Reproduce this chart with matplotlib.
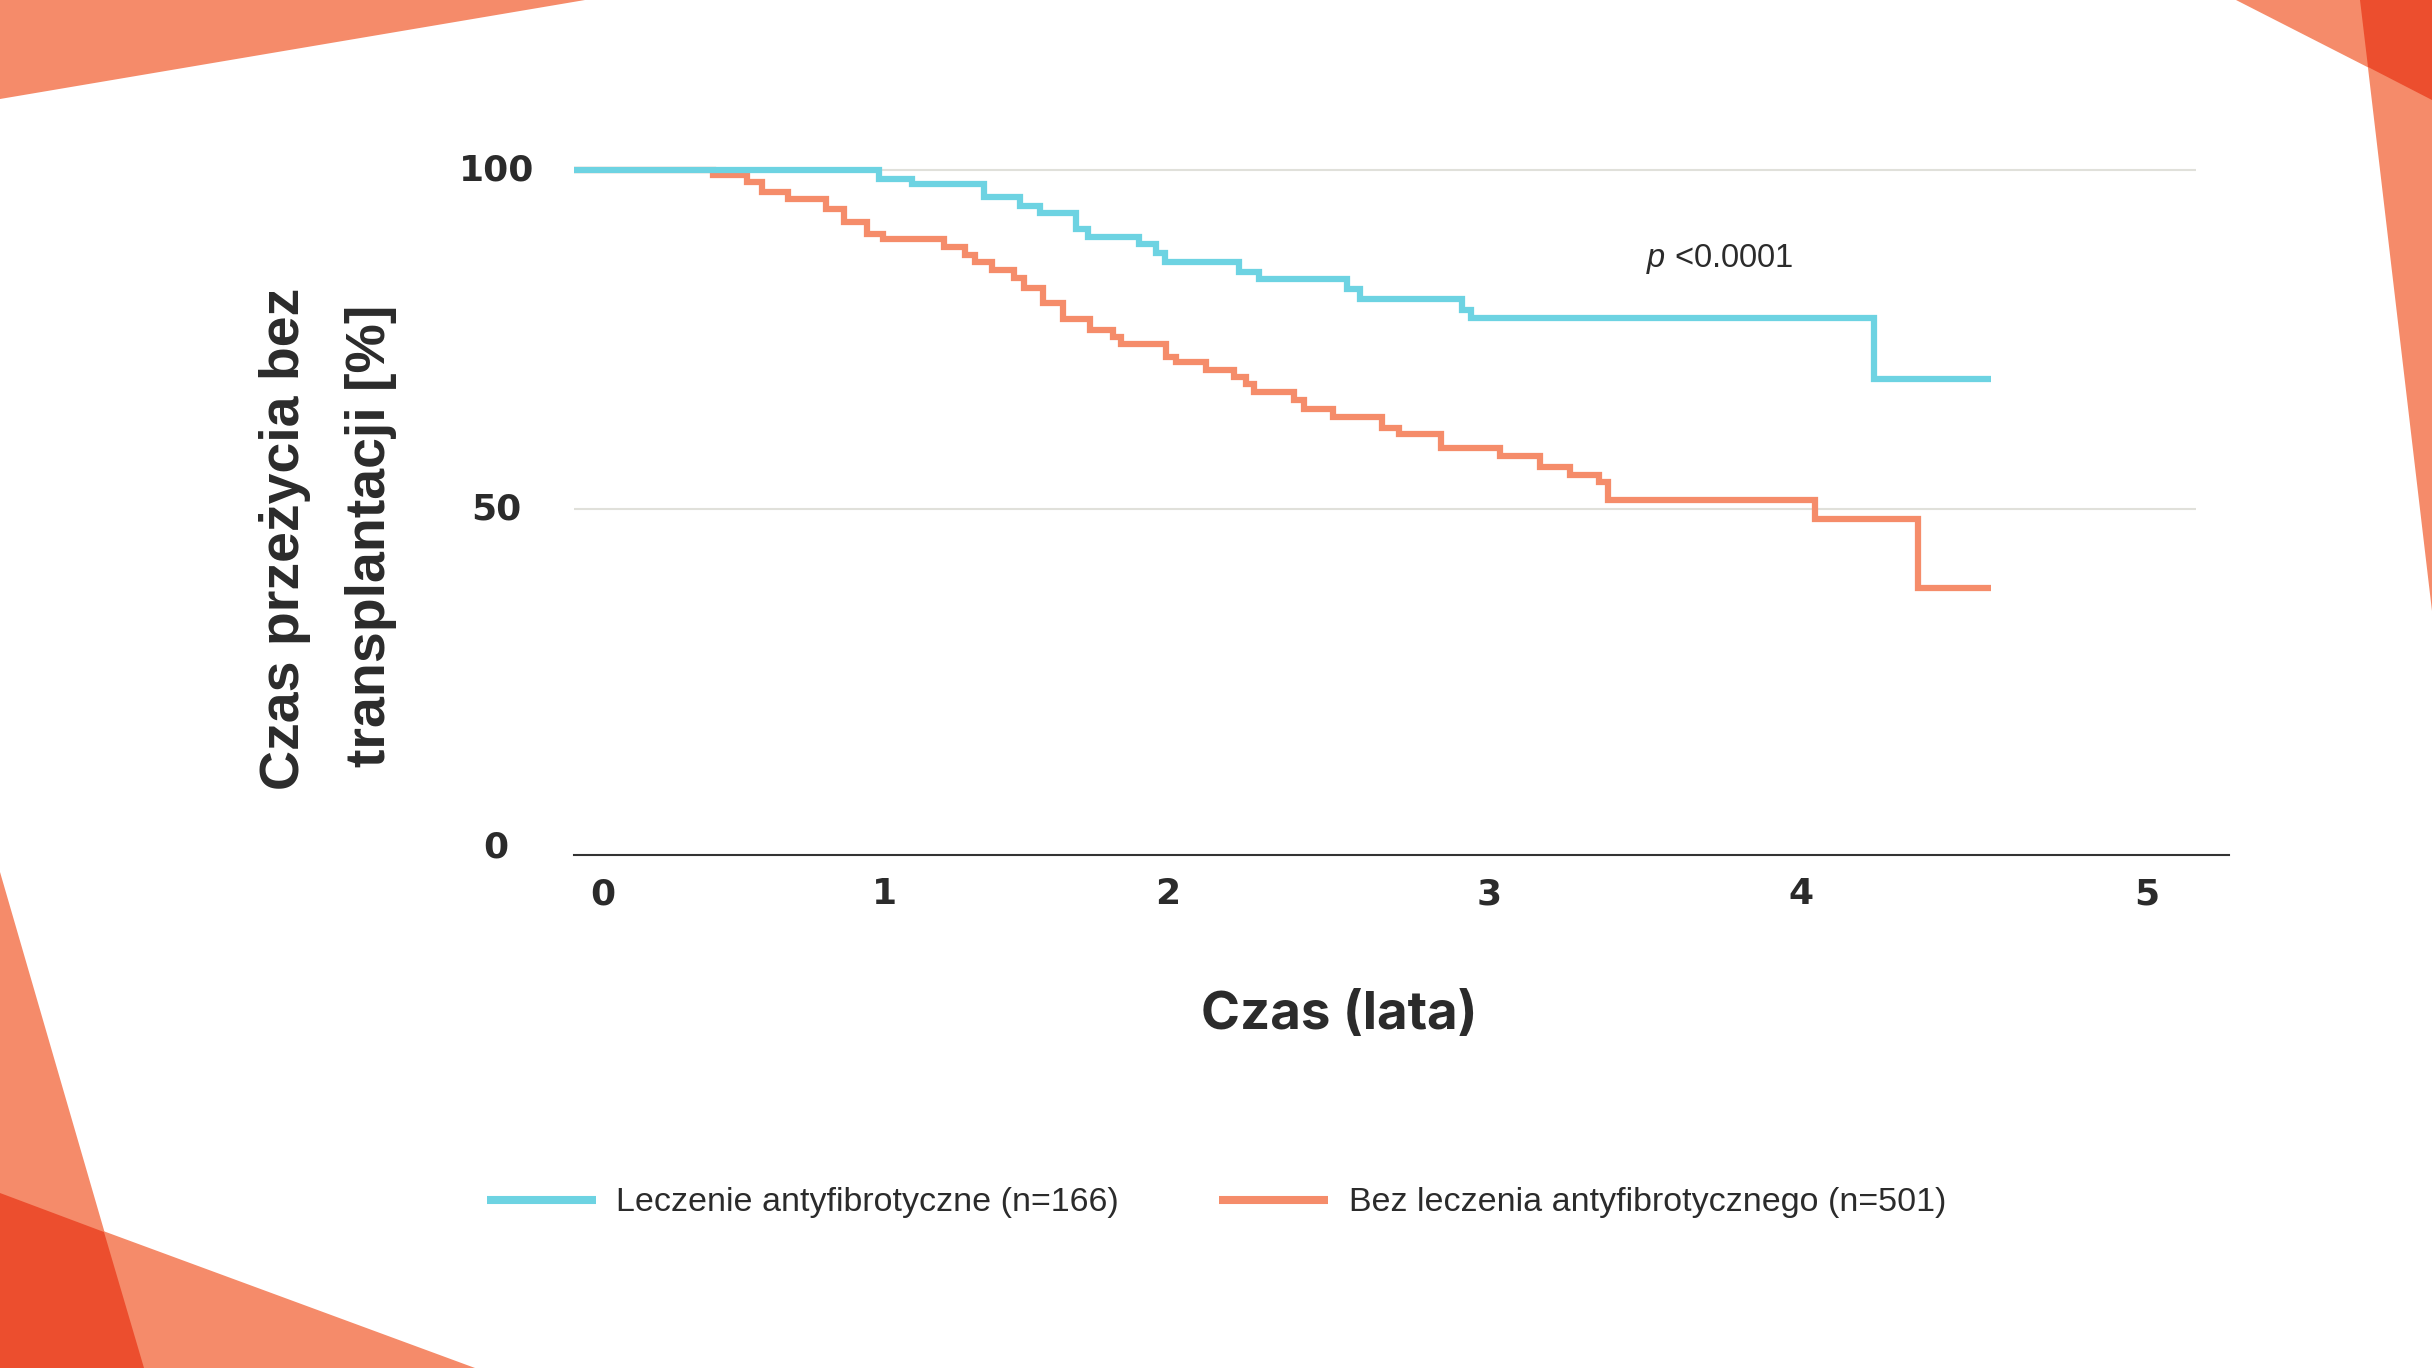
import matplotlib
matplotlib.use("Agg")
import matplotlib.pyplot as plt
from matplotlib.lines import Line2D
from matplotlib.patches import Polygon
from matplotlib.transforms import ScaledTranslation

# ── Data ──────────────────────────────────────────────────────
blue_label = "Leczenie antyfibrotyczne (n=166)"
orange_label = "Bez leczenia antyfibrotycznego (n=501)"

blue_t = [0, 0.989, 1.096, 1.328, 1.444, 1.510, 1.626, 1.667, 1.832, 1.887,
          1.915, 2.155, 2.221, 2.505, 2.548, 2.878, 2.906, 4.213, 4.593]
blue_s = [100, 98.7, 97.9, 96.0, 94.7, 93.6, 91.3, 90.1, 89.0, 87.7,
          86.4, 85.0, 83.9, 82.4, 80.9, 79.3, 78.1, 69.1, 69.1]

orange_t = [0, 0.452, 0.559, 0.609, 0.695, 0.816, 0.876, 0.948, 1.000, 1.199,
            1.268, 1.301, 1.356, 1.427, 1.458, 1.519, 1.584, 1.672, 1.746, 1.774,
            1.918, 1.950, 2.049, 2.140, 2.178, 2.204, 2.333, 2.364, 2.460, 2.617,
            2.675, 2.808, 3.001, 3.130, 3.229, 3.320, 3.350, 4.023, 4.356, 4.593]
orange_s = [100, 99.3, 98.2, 96.7, 95.7, 94.2, 92.3, 90.6, 89.8, 88.6,
            87.5, 86.4, 85.2, 84.0, 82.5, 80.3, 78.0, 76.3, 75.3, 74.3,
            72.4, 71.7, 70.4, 69.4, 68.4, 67.2, 66.1, 64.7, 63.5, 61.9,
            61.0, 58.9, 57.8, 56.2, 55.0, 53.9, 51.3, 48.4, 38.3, 38.3]

# tick labels sit slightly unevenly in the original
xtick_pos = [0.094, 1.005, 1.925, 2.965, 3.976, 5.097]
xtick_labels = ["0", "1", "2", "3", "4", "5"]
ytick_pos = [0, 50, 100]
ytick_labels = ["0", "50", "100"]

# ── Style ─────────────────────────────────────────────────────
BLUE = "#6DD3E2"
ORANGE = "#F58C6A"
SALMON = "#F58B6A"
RED = "#EC4E2E"
TEXT = "#2B2B2B"
GRID = "#E0E0DA"

plt.rcParams["font.family"] = ["Liberation Sans", "DejaVu Sans"]
plt.rcParams["mathtext.fontset"] = "custom"
plt.rcParams["mathtext.it"] = "Liberation Sans:italic"
plt.rcParams["mathtext.rm"] = "Liberation Sans"

W, H = 2432, 1368
fig = plt.figure(figsize=(W / 100, H / 100), dpi=100)
fig.patch.set_facecolor("white")


def px(x, y):
    return (x / W, 1 - y / H)


# ── Corner decorations ───────────────────────────────────────
shapes = [
    ([(0, 0), (585, 0), (0, 99)], SALMON),
    ([(2236, 0), (2432, 0), (2432, 100)], SALMON),
    ([(2360, 0), (2432, 0), (2432, 611)], SALMON),
    ([(2360, 0), (2432, 0), (2432, 100), (2368, 67)], RED),
    ([(0, 872), (144, 1368), (0, 1368)], SALMON),
    ([(0, 1193), (475, 1368), (0, 1368)], SALMON),
    ([(0, 1193), (104, 1232), (144, 1368), (0, 1368)], RED),
]
for pts, col in shapes:
    fig.patches.append(Polygon([px(*p) for p in pts], closed=True, fc=col, ec="none",
                               transform=fig.transFigure, zorder=0))

# ── Axes ──────────────────────────────────────────────────────
x0, x1 = 574, 2229
y_top, y_bot = 159.8, 855
ax = fig.add_axes([x0 / W, 1 - y_bot / H, (x1 - x0) / W, (y_bot - y_top) / H])
ax.set_facecolor("none")
ax.set_xlim(0, 5.363)
ax.set_ylim(-1.15, 101.5)

ax.hlines([50, 100], 0, 5.256, color=GRID, lw=1.5, zorder=1)

ax.step(orange_t, orange_s, where="post", color=ORANGE, lw=4.5,
        solid_joinstyle="miter", solid_capstyle="butt", zorder=3)
ax.step(blue_t, blue_s, where="post", color=BLUE, lw=4.5,
        solid_joinstyle="miter", solid_capstyle="butt", zorder=4)

for s in ["top", "right", "left"]:
    ax.spines[s].set_visible(False)
ax.spines["bottom"].set_color("#333333")
ax.spines["bottom"].set_linewidth(1.5)

ax.set_xticks(xtick_pos, xtick_labels)
ax.set_yticks(ytick_pos, ytick_labels)
ax.tick_params(axis="x", length=0, pad=16, labelsize=26, labelcolor=TEXT)
ax.tick_params(axis="y", length=0, pad=56, labelsize=26, labelcolor=TEXT)
for lab in ax.get_xticklabels() + ax.get_yticklabels():
    lab.set_fontweight("bold")
    lab.set_family("DejaVu Sans")
lift = ScaledTranslation(0, 0.03, fig.dpi_scale_trans)
for lab in ax.get_yticklabels():
    lab.set_ha("center")
    lab.set_transform(lab.get_transform() + lift)

ax.text(3.474, 86.9, r"$p$ <0.0001", fontsize=23.5, color=TEXT, ha="left", va="center")

# ── Labels ────────────────────────────────────────────────────
fig.text(*px(1339, 1016), "Czas (lata)", fontsize=38, fontweight="bold", color=TEXT,
         family=["Inter", "DejaVu Sans"], ha="center", va="center")
fig.text(*px(285, 539), "Czas przeżycia bez", fontsize=40, fontweight="bold", color=TEXT,
         rotation=90, ha="center", va="center")
fig.text(*px(371, 536), "transplantacji [%]", fontsize=40, fontweight="bold", color=TEXT,
         rotation=90, ha="center", va="center")

# ── Legend ────────────────────────────────────────────────────
handles = [Line2D([], [], color=BLUE, lw=5.8, solid_capstyle="butt"),
           Line2D([], [], color=ORANGE, lw=5.8, solid_capstyle="butt")]
fig.legend(handles, [blue_label, orange_label], loc="center left",
           bbox_to_anchor=px(487, 1203), ncol=2, frameon=False, borderpad=0,
           borderaxespad=0, handlelength=3.2, handletextpad=0.6, columnspacing=2.95,
           prop={"size": 24.5}, labelcolor=TEXT)

fig.savefig("out.png", dpi=100, facecolor="white")
